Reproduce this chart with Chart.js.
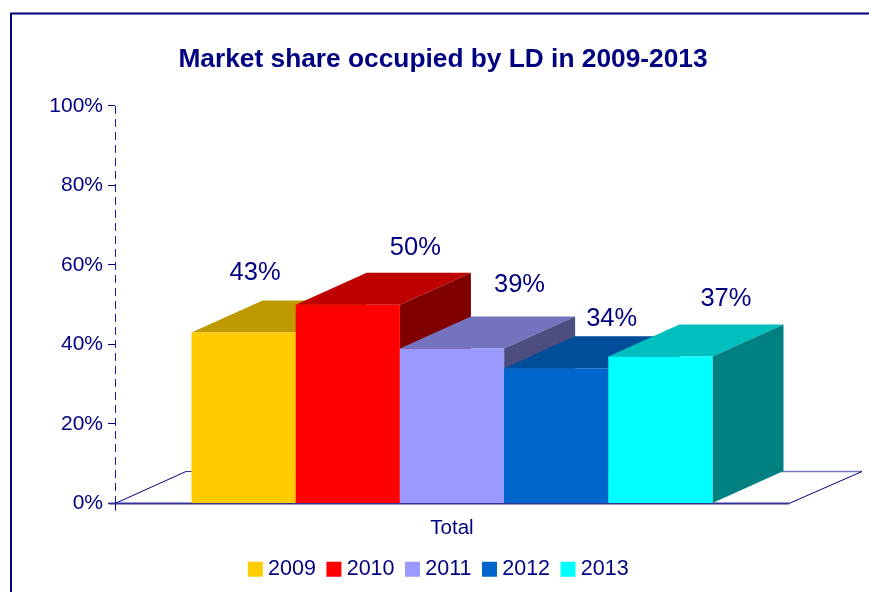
<!DOCTYPE html>
<html><head><meta charset="utf-8">
<style>html,body{margin:0;padding:0;background:#fff;overflow:hidden}#w{position:relative;width:869px;height:592px}</style>
<script src="https://cdn.jsdelivr.net/npm/chart.js@4"></script>
</head><body><div id="w"><canvas id="c" width="869" height="592"></canvas></div>
<script>
const categories = ['Total'];
const years = ['2009','2010','2011','2012','2013'];
const values = [43, 50, 39, 34, 37];
const yTicks = [0, 20, 40, 60, 80, 100];
const frontColors = ['#FFCC00','#FF0000','#9999FF','#0066CC','#00FFFF'];
const topColors   = ['#BF9900','#BF0000','#7373BF','#004D99','#00BFBF'];
const sideColors  = ['#806600','#800000','#4D4D80','#003366','#008080'];
const labelNudge  = [[11.5,-60],[67.5,-57],[67.5,-63],[55.5,-49],[65.5,-57]];

const NAVY = '#000080';
const DX = 71, DY = 32, FLOORDX = 73;
const FONT = '"Liberation Sans", Arial, sans-serif';

function poly(ctx, pts, fill){
  ctx.beginPath();
  pts.forEach((p,i)=> i ? ctx.lineTo(p[0],p[1]) : ctx.moveTo(p[0],p[1]));
  ctx.closePath(); ctx.fillStyle = fill; ctx.fill();
}
function seg(ctx, x1,y1,x2,y2,color,w){
  ctx.beginPath(); ctx.moveTo(x1,y1); ctx.lineTo(x2,y2);
  ctx.strokeStyle=color; ctx.lineWidth=w; ctx.setLineDash([]); ctx.stroke();
}
const box3d = {
  id:'box3d',
  afterLayout(chart){
    const t = chart.titleBlock; t.left = 17; t.right = 869;
    const l = chart.legend; l.left = 11; l.right = 871; l.top = 542.5;
  },
  beforeDraw(chart){
    const c = chart.ctx;
    c.save();
    seg(c, 11, 592, 11, 13.5, NAVY, 2);
    seg(c, 10, 13.5, 869, 13.5, NAVY, 2);
    c.restore();
  },
  beforeDatasetsDraw(chart){
    const c = chart.ctx, xs = chart.scales.x, ys = chart.scales.y;
    const y0 = ys.getPixelForValue(0), y100 = ys.getPixelForValue(100), L = xs.left, R = xs.right;
    c.save();
    c.beginPath(); c.moveTo(L+0.5,y100); c.lineTo(L+0.5,y0);
    c.strokeStyle='#1A1A99'; c.lineWidth=1; c.setLineDash([8,5]); c.stroke();
    seg(c, L+FLOORDX-2, y0-DY, L+FLOORDX+8, y0-DY, '#333399', 1);
    seg(c, R-10, y0-DY, R+FLOORDX, y0-DY, '#7777BB', 1.5);
    seg(c, L, y0, L+FLOORDX-2, y0-DY, NAVY, 1);
    seg(c, R, y0, R+FLOORDX, y0-DY, NAVY, 1);
    seg(c, L-6, y0, R, y0, '#333399', 2);
    seg(c, L+0.5, y0, L+0.5, y0+7, NAVY, 1);
    chart.getSortedVisibleDatasetMetas().forEach((meta)=>{
      const i = meta.index, bar = meta.data[0];
      const x0 = bar.x - bar.width/2, x1 = bar.x + bar.width/2, yt = bar.y, yb = bar.base;
      poly(c, [[x0,yt],[x0+DX,yt-DY],[x1+DX,yt-DY],[x1,yt]], topColors[i]);
      poly(c, [[x1,yt],[x1+DX,yt-DY],[x1+DX,yb-DY],[x1,yb]], sideColors[i]);
      bar.draw(c);
    });
    c.font = '25.5px '+FONT; c.fillStyle = NAVY; c.textAlign='center'; c.textBaseline='middle';
    chart.getSortedVisibleDatasetMetas().forEach((meta)=>{
      const i = meta.index, bar = meta.data[0];
      c.fillText(values[i]+'%', bar.x + labelNudge[i][0], bar.y + labelNudge[i][1]);
    });
    c.restore();
    return false;
  }
};
new Chart(document.getElementById('c'), {
  type:'bar',
  data:{
    labels: categories,
    datasets: years.map((y,i)=>({label:y, data:[values[i]], backgroundColor:frontColors[i], borderWidth:0,
      categoryPercentage:0.773, barPercentage:1}))
  },
  plugins:[box3d],
  options:{
    responsive:false, animation:false,
    layout:{padding:{left:17,right:80,top:0,bottom:0}},
    plugins:{
      tooltip:{enabled:false},
      title:{display:true, text:'Market share occupied by LD in 2009-2013', color:NAVY,
        font:{family:FONT,size:26.3,weight:'bold',lineHeight:1.2}, padding:{top:44,bottom:30.4}},
      legend:{position:'bottom', onClick:null,
        labels:{color:NAVY, font:{family:FONT,size:21.5}, boxWidth:4, boxHeight:4, padding:16,
          generateLabels:(ch)=>ch.data.datasets.map((d,i)=>({text:d.label, fillStyle:frontColors[i],
            strokeStyle:frontColors[i], lineWidth:11, datasetIndex:i, hidden:false, fontColor:NAVY}))}}
    },
    scales:{
      x:{grid:{display:false,drawTicks:false}, border:{display:false},
        ticks:{color:NAVY,font:{family:FONT,size:20.5},padding:13},
        afterFit(s){s.height=41;}},
      y:{min:0,max:100,
        afterBuildTicks(s){s.ticks = yTicks.map(v=>({value:v}));},
        afterFit(s){s.width=98;},
        grid:{drawOnChartArea:false,color:NAVY,tickLength:7,tickColor:NAVY,lineWidth:1},
        border:{display:false},
        ticks:{color:NAVY,font:{family:FONT,size:21},padding:5,callback:v=>v+'%'}}
    }
  }
});
</script></body></html>
